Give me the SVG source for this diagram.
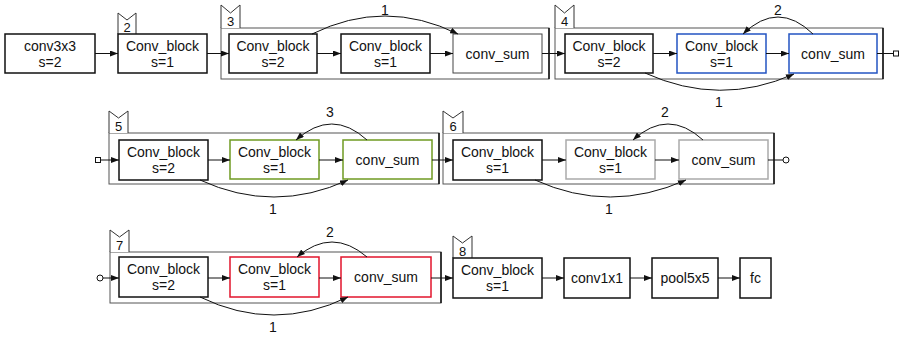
<svg xmlns="http://www.w3.org/2000/svg" width="901" height="337" viewBox="0 0 901 337">
<defs>
<marker id="a" viewBox="0 0 8 6" refX="8" refY="3" markerWidth="8" markerHeight="6" markerUnits="userSpaceOnUse" orient="auto"><path d="M0,0 L8,3 L0,6 Z" fill="#111"/></marker>
<style>
.n{fill:#fff;stroke:#111;stroke-width:1.5}
.blue{stroke:#2354c2}
.green{stroke:#6f9a22}
.gray{stroke:#aaa}
.red{stroke:#e2152c}
.grp{fill:none;stroke:#555;stroke-width:1}
.edge{stroke:#111;stroke-width:1.5}
.tag{fill:#fff;stroke:#333;stroke-width:1}
.t{font-family:"Liberation Sans",Arial,sans-serif;font-size:14px;text-anchor:middle;fill:#111}
.tt{font-family:"Liberation Sans",Arial,sans-serif;font-size:13px;text-anchor:middle;fill:#111}
.e{fill:none;stroke:#111;stroke-width:1;marker-end:url(#a)}
.l{fill:none;stroke:#111;stroke-width:1}
.p{fill:#fff;stroke:#111;stroke-width:1}
</style>
</defs>

<!-- group frames -->
<g id="group3"><rect class="grp" x="221" y="28" width="328" height="51"/><line class="edge" x1="549" y1="28" x2="549" y2="79"/><path class="tag" d="M221,28 V5 L230.5,13 L240,5 V28"/><text class="tt" x="230.5" y="26">3</text></g>
<g id="group4"><rect class="grp" x="555" y="28" width="328" height="51"/><line class="edge" x1="883" y1="28" x2="883" y2="79"/><path class="tag" d="M555,28 V5 L564.5,13 L574,5 V28"/><text class="tt" x="564.5" y="26">4</text></g>
<g id="group5"><rect class="grp" x="109" y="133" width="330" height="51"/><line class="edge" x1="439" y1="133" x2="439" y2="184"/><path class="tag" d="M109,133 V111 L118.5,118 L128,111 V133"/><text class="tt" x="118.5" y="131">5</text></g>
<g id="group6"><rect class="grp" x="443" y="133" width="331" height="51"/><line class="edge" x1="774" y1="133" x2="774" y2="184"/><path class="tag" d="M443,133 V111 L453,118 L463,111 V133"/><text class="tt" x="453" y="131">6</text></g>
<g id="group7"><rect class="grp" x="110" y="252" width="331" height="51"/><line class="edge" x1="441" y1="252" x2="441" y2="303"/><path class="tag" d="M110,252 V230 L119.5,237 L129,230 V252"/><text class="tt" x="119.5" y="250">7</text></g>

<!-- row 1 nodes -->
<g id="conv3x3"><rect class="n" x="5" y="34" width="90" height="39"/><text class="t" x="50" y="51">conv3x3</text><text class="t" x="50" y="67">s=2</text></g>
<g id="block2"><path class="tag" d="M118,34 V13 L127,20 L136,13 V34"/><text class="tt" x="127" y="32">2</text><rect class="n" x="118" y="34" width="89" height="39"/><text class="t" x="162.5" y="51">Conv_block</text><text class="t" x="162.5" y="67">s=1</text></g>
<g id="g3_b1"><rect class="n" x="229" y="34" width="88" height="39"/><text class="t" x="273" y="51">Conv_block</text><text class="t" x="273" y="67">s=2</text></g>
<g id="g3_b2"><rect class="n" x="341" y="34" width="89" height="39"/><text class="t" x="385.5" y="51">Conv_block</text><text class="t" x="385.5" y="67">s=1</text></g>
<g id="g3_sum"><rect class="n" x="453" y="34" width="89" height="39" style="stroke:#444;stroke-width:1"/><text class="t" x="497.5" y="59">conv_sum</text></g>
<g id="g4_b1"><rect class="n" x="565" y="34" width="88" height="39"/><text class="t" x="609" y="51">Conv_block</text><text class="t" x="609" y="67">s=2</text></g>
<g id="g4_b2"><rect class="n blue" x="677" y="34" width="89" height="39"/><text class="t" x="721.5" y="51">Conv_block</text><text class="t" x="721.5" y="67">s=1</text></g>
<g id="g4_sum"><rect class="n blue" x="789" y="34" width="88" height="39"/><text class="t" x="833" y="59">conv_sum</text></g>

<!-- row 2 nodes -->
<g id="g5_b1"><rect class="n" x="119" y="140" width="89" height="40"/><text class="t" x="163.5" y="157">Conv_block</text><text class="t" x="163.5" y="173">s=2</text></g>
<g id="g5_b2"><rect class="n green" x="230" y="140" width="89" height="39"/><text class="t" x="274.5" y="157">Conv_block</text><text class="t" x="274.5" y="173">s=1</text></g>
<g id="g5_sum"><rect class="n green" x="343" y="140" width="89" height="39"/><text class="t" x="387.5" y="165">conv_sum</text></g>
<g id="g6_b1"><rect class="n" x="453" y="140" width="89" height="40"/><text class="t" x="497.5" y="157">Conv_block</text><text class="t" x="497.5" y="173">s=1</text></g>
<g id="g6_b2"><rect class="n gray" x="566" y="140" width="89" height="39"/><text class="t" x="610.5" y="157">Conv_block</text><text class="t" x="610.5" y="173">s=1</text></g>
<g id="g6_sum"><rect class="n gray" x="679" y="140" width="89" height="39"/><text class="t" x="723.5" y="165">conv_sum</text></g>

<!-- row 3 nodes -->
<g id="g7_b1"><rect class="n" x="119" y="257" width="89" height="40"/><text class="t" x="163.5" y="274">Conv_block</text><text class="t" x="163.5" y="290">s=2</text></g>
<g id="g7_b2"><rect class="n red" x="230" y="257" width="89" height="40"/><text class="t" x="274.5" y="274">Conv_block</text><text class="t" x="274.5" y="290">s=1</text></g>
<g id="g7_sum"><rect class="n red" x="341" y="257" width="90" height="40"/><text class="t" x="386" y="282">conv_sum</text></g>
<g id="block8"><path class="tag" d="M453,258 V236 L462.5,243 L472,236 V258"/><text class="tt" x="462.5" y="256">8</text><rect class="n" x="453" y="258" width="89" height="40"/><text class="t" x="497.5" y="275">Conv_block</text><text class="t" x="497.5" y="291">s=1</text></g>
<g id="conv1x1"><rect class="n" x="564" y="258" width="66" height="40"/><text class="t" x="597" y="283">conv1x1</text></g>
<g id="pool5x5"><rect class="n" x="652" y="258" width="66" height="40"/><text class="t" x="685" y="283">pool5x5</text></g>
<g id="fc"><rect class="n" x="740" y="258" width="31" height="40"/><text class="t" x="755.5" y="283">fc</text></g>

<!-- connectors -->
<g id="connectors">
<path class="e" d="M95,53.5 H118"/>
<path class="e" d="M207,53.5 H229"/>
<path class="e" d="M317,53.5 H341"/>
<path class="e" d="M430,53.5 H453"/>
<path class="e" d="M542,53.5 H565"/>
<path class="e" d="M653,53.5 H677"/>
<path class="e" d="M766,53.5 H789"/>
<path class="l" d="M877,53.5 H893"/>
<rect class="p" x="893.5" y="51" width="5" height="5"/>
<path class="e" d="M312,34 Q385,-2 458,34"/>
<text class="t" x="385" y="15">1</text>
<path class="e" d="M813,34 Q778,0 743,34"/>
<text class="t" x="778" y="15">2</text>
<path class="e" d="M645,73 Q720,107 794,74"/>
<text class="t" x="719" y="107">1</text>

<rect class="p" x="95.5" y="157.5" width="5" height="5"/>
<path class="e" d="M100.5,160 H119"/>
<path class="e" d="M208,160 H230"/>
<path class="e" d="M319,160 H343"/>
<path class="e" d="M432,160 H453"/>
<path class="e" d="M542,160 H566"/>
<path class="e" d="M655,160 H679"/>
<path class="l" d="M768,160 H783"/>
<circle class="p" cx="786" cy="160" r="3"/>
<path class="e" d="M367,140 Q332,108 296,140"/>
<text class="t" x="330" y="117">3</text>
<path class="e" d="M200,180 Q274,214 348,180"/>
<text class="t" x="273" y="214">1</text>
<path class="e" d="M703,140 Q668,108 633,140"/>
<text class="t" x="665" y="117">2</text>
<path class="e" d="M535,180 Q610,214 686,180"/>
<text class="t" x="609" y="214">1</text>

<circle class="p" cx="100" cy="278" r="3"/>
<path class="e" d="M103,278 H119"/>
<path class="e" d="M208,278 H230"/>
<path class="e" d="M319,278 H341"/>
<path class="e" d="M431,278 H453"/>
<path class="e" d="M542,278 H564"/>
<path class="e" d="M630,278 H652"/>
<path class="e" d="M718,278 H740"/>
<path class="e" d="M367,257 Q332,227 297,257"/>
<text class="t" x="330" y="237">2</text>
<path class="e" d="M200,297 Q274,333 348,297"/>
<text class="t" x="273" y="332">1</text>
</g>
</svg>
